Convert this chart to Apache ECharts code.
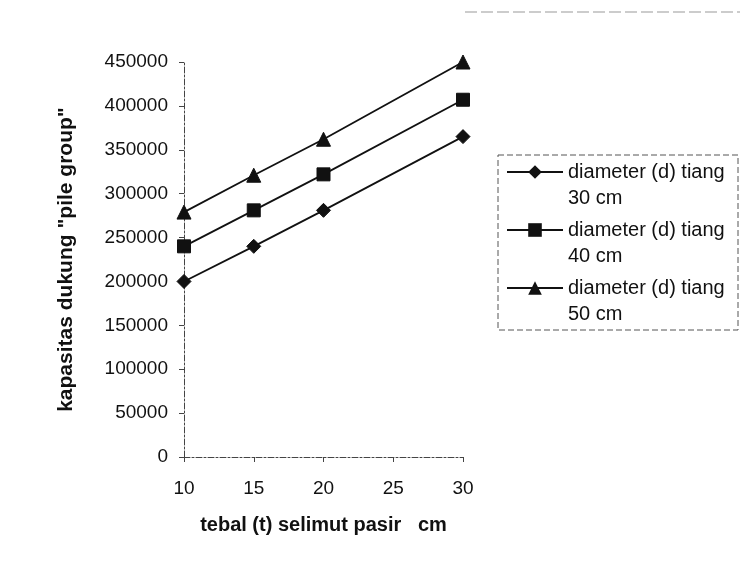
<!DOCTYPE html>
<html>
<head>
<meta charset="utf-8">
<script src="https://cdn.jsdelivr.net/npm/echarts@6/dist/echarts.min.js"></script>
<style>
  html, body { margin: 0; padding: 0; background: #fff; }
  #chart { width: 748px; height: 581px; }
</style>
</head>
<body>
<div id="chart"></div>
<script>
// tebal selimut pasir (cm)
var tebal = [10, 15, 20, 30]
var xTicks = [10, 15, 20, 25, 30]
// kapasitas dukung tiap diameter tiang
var d30 = [200000, 240000, 281000, 365000]
var d40 = [240000, 281000, 322000, 407000]
var d50 = [279000, 321000, 362000, 450000]
// blank first line so the legend icon sits on the first text line
var names = ['\ndiameter (d) tiang\n30 cm', '\ndiameter (d) tiang\n40 cm', '\ndiameter (d) tiang\n50 cm']

function pairs(ys) {
    return tebal.map(function(t, i) { return [t, ys[i]] })
}

var font = 'Liberation Sans, Arial, sans-serif'
var chart = echarts.init(document.getElementById('chart'))

function line(name, ys, symbol, size) {
    return {
        name: name,
        type: 'line',
        data: pairs(ys),
        symbol: symbol,
        symbolSize: size,
        lineStyle: { color: '#111', width: 1.8 },
        itemStyle: { color: '#111', borderColor: '#111' },
        emphasis: { disabled: true },
        animation: false
    }
}

chart.setOption({
    backgroundColor: '#fff',
    textStyle: { fontFamily: font },
    grid: { left: 184, right: 285, top: 62, bottom: 124 },
    xAxis: {
        type: 'value',
        min: xTicks[0],
        max: xTicks[xTicks.length - 1],
        interval: 5,
        name: 'tebal (t) selimut pasir   cm',
        nameLocation: 'middle',
        nameGap: 58,
        nameTextStyle: { color: '#111', fontSize: 20, fontWeight: 'bold', fontFamily: font },
        axisLine: { lineStyle: { color: '#444', width: 1, type: [6, 2, 2, 2] } },
        axisTick: { length: 5, lineStyle: { color: '#444' } },
        axisLabel: { color: '#111', fontSize: 19, margin: 22, fontFamily: font },
        splitLine: { show: false }
    },
    yAxis: {
        type: 'value',
        min: 0,
        max: 450000,
        interval: 50000,
        name: 'kapasitas dukung "pile group"',
        nameLocation: 'middle',
        nameGap: 107,
        nameTextStyle: { color: '#111', fontSize: 21, fontWeight: 'bold', fontFamily: font },
        axisLine: { show: true, lineStyle: { color: '#444', width: 1, type: [6, 2, 2, 2] } },
        axisTick: { show: true, length: 5, lineStyle: { color: '#444' } },
        axisLabel: {
            color: '#111', fontSize: 19, margin: 16, fontFamily: font,
            formatter: function(v) { return String(v) }
        },
        splitLine: { show: false }
    },
    legend: {
        orient: 'vertical',
        left: 506,
        top: 133,
        padding: 0,
        itemGap: -20,
        itemWidth: 56,
        itemHeight: 17,
        textStyle: { color: '#111', fontSize: 20, lineHeight: 26, fontFamily: font },
        data: names
    },
    graphic: [{
        type: 'rect',
        shape: { x: 498, y: 155, width: 240, height: 175 },
        style: { fill: null, stroke: '#555', lineWidth: 1, lineDash: [6, 3] }
    }, {
        type: 'line',
        shape: { x1: 465, y1: 12, x2: 740, y2: 12 },
        style: { stroke: '#999', lineWidth: 1, lineDash: [12, 4] }
    }],
    series: [
        line(names[0], d30, 'diamond', 14),
        line(names[1], d40, 'rect', 13),
        line(names[2], d50, 'triangle', 14)
    ]
})
</script>
</body>
</html>
